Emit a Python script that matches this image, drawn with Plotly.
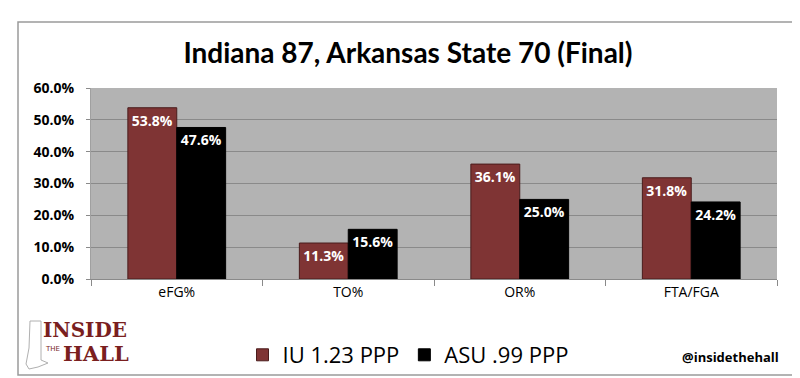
import plotly.graph_objects as go

categories = ["eFG%", "TO%", "OR%", "FTA/FGA"]
iu_values = [53.8, 11.3, 36.1, 31.8]
asu_values = [47.6, 15.6, 25.0, 24.2]
iu_name = "IU 1.23 PPP"
asu_name = "ASU .99 PPP"
title_text = "Indiana 87, Arkansas State 70 (Final)"
y_ticks = [0, 10, 20, 30, 40, 50, 60]

W, H = 800, 378
L, R, T, B = 83, 31, 80, 107
pw, ph = W - L - R, H - T - B

def px(x):
    return (x - L) / pw

def py(y):
    return (H - B - y) / ph

label_font = dict(color="white", size=14, family="Open Sans", weight="bold")

fig = go.Figure()
fig.add_trace(go.Bar(
    x=categories, y=iu_values, name=iu_name,
    marker=dict(color="#7f3434", line=dict(color="#4a1c1c", width=1)),
    text=[f"{v:.1f}%" for v in iu_values], textposition="inside",
    insidetextanchor="end", textangle=0,
    textfont=label_font,
))
fig.add_trace(go.Bar(
    x=categories, y=asu_values, name=asu_name,
    marker=dict(color="#000000", line=dict(color="#000000", width=1)),
    text=[f"{v:.1f}%" for v in asu_values], textposition="inside",
    insidetextanchor="end", textangle=0,
    textfont=label_font,
))

shapes = [
    dict(type="rect", xref="paper", yref="paper",
         x0=px(10), x1=px(788), y0=py(367), y1=py(14),
         line=dict(color="#9a9a9a", width=1.5), fillcolor="rgba(0,0,0,0)", layer="below"),
    # rough Indiana outline of the logo
    dict(type="path", xref="paper", yref="paper",
         path=("M {a},{b} L {c},{b} L {c},{d} L {e},{f} L {g},{h} L {i},{j} L {k},{l} L {m},{n} Z").format(
             a=px(22), b=py(313), c=px(33), d=py(352),
             e=px(40), f=py(355), g=px(30), h=py(359),
             i=px(21), j=py(361), k=px(18), l=py(356), m=px(21), n=py(340)),
         line=dict(color="#b0b0b0", width=1), fillcolor="rgba(0,0,0,0)"),
]

annotations = [
    dict(text="INSIDE", xref="paper", yref="paper", x=px(77), y=py(322),
         showarrow=False, xanchor="center", yanchor="middle",
         font=dict(family="DejaVu Serif", size=20, color="#7a1f1f", weight="bold")),
    dict(text="THE", xref="paper", yref="paper", x=px(44), y=py(341),
         showarrow=False, xanchor="center", yanchor="middle",
         font=dict(family="DejaVu Sans", size=7, color="#7a1f1f")),
    dict(text="HALL", xref="paper", yref="paper", x=px(88), y=py(345),
         showarrow=False, xanchor="center", yanchor="middle",
         font=dict(family="DejaVu Serif", size=21, color="#7a1f1f", weight="bold")),
    dict(text="@insidethehall", xref="paper", yref="paper", x=px(773), y=py(349),
         showarrow=False, xanchor="right", yanchor="middle",
         font=dict(family="Open Sans", size=13, color="#000000", weight="bold")),
]

fig.update_layout(
    width=W, height=H,
    margin=dict(l=L, r=R, t=T, b=B, autoexpand=False),
    paper_bgcolor="white",
    plot_bgcolor="#b3b3b3",
    title=dict(text=title_text, x=0.5, xref="container", xanchor="center",
               y=1 - 45 / H, yref="container", yanchor="middle",
               font=dict(family="Lato", size=28, color="#000000", weight="bold")),
    barmode="group",
    bargap=0.43,
    bargroupgap=0.0,
    showlegend=True,
    legend=dict(orientation="h", x=px(400), xanchor="center", y=py(347), yanchor="middle",
                font=dict(family="Open Sans", size=22, color="#000000"),
                itemwidth=30, bgcolor="rgba(0,0,0,0)"),
    shapes=shapes,
    annotations=annotations,
    uniformtext=dict(mode="show", minsize=10),
)
fig.update_yaxes(range=[0, 60], tickvals=y_ticks, ticktext=[f"{v:.1f}%" for v in y_ticks],
                 showgrid=True, gridcolor="#8a8a8a", gridwidth=1,
                 tickfont=dict(family="Open Sans", size=14, color="#000000", weight="bold"),
                 ticks="outside", ticklen=4, tickcolor="#8a8a8a", ticklabelstandoff=9,
                 zeroline=False, showline=True, linecolor="#a0a0a0", fixedrange=True)
fig.update_xaxes(showline=True, linecolor="#8a8a8a", linewidth=1,
                 ticks="outside", tickson="boundaries", ticklen=6, tickcolor="#8a8a8a",
                 tickfont=dict(family="Open Sans", size=14, color="#000000"))

fig.write_html("out.html")
